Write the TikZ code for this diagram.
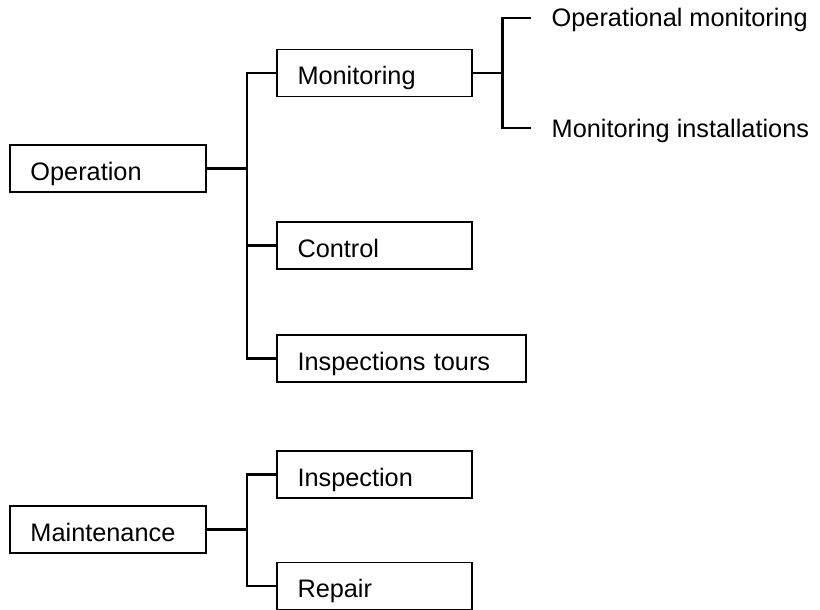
\documentclass[tikz,border=0pt]{standalone}
\usepackage{fontspec}
\setmainfont{Liberation Sans}
\begin{document}
\begin{tikzpicture}[x=1pt, y=-1pt,
  box/.style={draw, line width=1.1pt, minimum height=47pt, inner xsep=20.5pt,
    inner ysep=0pt, text height=23pt, text depth=0pt, align=left,
    font=\fontsize{25.3}{30}\selectfont},
  leaf/.style={inner sep=0pt, text height=18pt, text depth=0pt,
    font=\fontsize{25.3}{30}\selectfont, anchor=west},
  conn/.style={line width=2.3pt}]
\useasboundingbox (0,0) rectangle (820,610);

% operation branch
\node[box, text width=155pt] (op)    at (108,168.5)   {Operation};
\node[box, text width=154pt] (mon)   at (374.5,73)    {Monitoring};
\node[box, text width=154pt] (ctl)   at (374.5,245.5) {Control};
\node[box, text width=208pt] (tours) at (401.5,358.5) {Inspections tours};

% monitoring leaves
\node[leaf] (lop)   at (551.5,18)  {Operational monitoring};
\node[leaf] (linst) at (551.5,128) {Monitoring installations};

% maintenance branch
\node[box, text width=155pt] (mnt)  at (108,529.5)   {Maintenance};
\node[box, text width=154pt] (insp) at (374.5,474.5) {Inspection};
\node[box, text width=154pt] (rep)  at (374.5,586)   {Repair};

% bus lines
\coordinate (busa) at (247,0);
\coordinate (busb) at (502.5,0);

\draw[conn] (mon.west) -- (busa |- mon.west) -- (busa |- tours.west) -- (tours.west);
\draw[conn] (op.east) -- (busa |- op.east);
\draw[conn] (ctl.west) -- (busa |- ctl.west);

\draw[conn] (mon.east) -- (busb |- mon.east);
\draw[conn] ([xshift=-21pt]lop.west) -- (busb |- lop.west)
  -- (busb |- linst.west) -- ([xshift=-21pt]linst.west);

\draw[conn] (insp.west) -- (busa |- insp.west) -- (busa |- rep.west) -- (rep.west);
\draw[conn] (mnt.east) -- (busa |- mnt.east);
\end{tikzpicture}
\end{document}
